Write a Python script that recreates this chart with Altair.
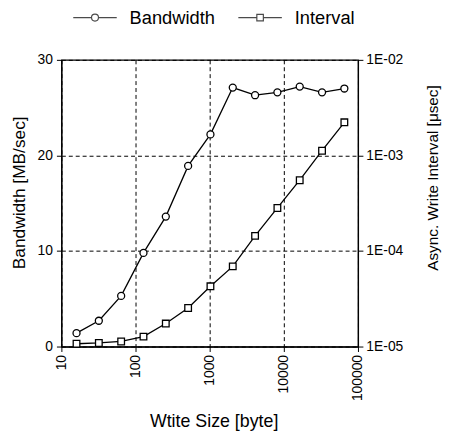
import altair as alt
import pandas as pd

sizes = [16, 32, 64, 128, 256, 512, 1024, 2048, 4096, 8192, 16384, 32768, 65536]
bandwidth = [1.4, 2.7, 5.3, 9.8, 13.6, 18.9, 22.2, 27.1, 26.3, 26.6, 27.2, 26.6, 27.0]
interval = [1.07e-5, 1.09e-5, 1.13e-5, 1.27e-5, 1.74e-5, 2.53e-5, 4.27e-5, 6.9e-5,
            1.44e-4, 2.82e-4, 5.5e-4, 1.12e-3, 2.22e-3]
series_names = ["Bandwidth", "Interval"]
x_ticks = [10, 100, 1000, 10000, 100000]
left_ticks = [0, 10, 20, 30]
right_ticks = [1e-5, 1e-4, 1e-3, 1e-2]

df_bw = pd.DataFrame({"size": sizes, "value": bandwidth})
df_iv = pd.DataFrame({"size": sizes, "value": interval})
df_leg = pd.DataFrame({"series": series_names})

FONT = "Liberation Sans"

x_axis = alt.Axis(values=x_ticks, labelExpr="format(datum.value, 'd')", labelAngle=270,
                  title="Wtite Size [byte]", grid=True, gridDash=[4, 3], gridColor="black",
                  gridOpacity=1, tickSize=5, labelPadding=3, titlePadding=12,
                  titleX=154, titleAlign="center",
                  labelFontSize=14, titleFontSize=18)
x_enc = alt.X("size:Q", scale=alt.Scale(type="log", domain=[10, 100000], nice=False), axis=x_axis)

y_left = alt.Y("value:Q", scale=alt.Scale(domain=[0, 30], nice=False),
               axis=alt.Axis(values=left_ticks, title="Bandwidth [MB/sec]", grid=True,
                             gridDash=[4, 3], gridColor="black", gridOpacity=1,
                             tickSize=5, labelPadding=4,
                             titleAngle=270, titleX=-42, titleY=134,
                             titleAlign="center", titleBaseline="middle",
                             labelFontSize=14, titleFontSize=17.5))

y_right = alt.Y("value:Q", scale=alt.Scale(type="log", domain=[1e-5, 1e-2], nice=False),
                axis=alt.Axis(orient="right", values=right_ticks,
                              labelExpr="'1E-0' + round(-log(datum.value) / LN10)",
                              title="Async. Write Interval [\u03bcsec]", titleAngle=270,
                              titleX=75, titleY=119, titleAlign="center",
                              titleBaseline="middle",
                              grid=False, tickSize=5, labelPadding=3,
                              labelFontSize=14, titleFontSize=15.5))

line_bw = alt.Chart(df_bw).mark_line(color="black", strokeWidth=1.3).encode(x=x_enc, y=y_left)
pts_bw = alt.Chart(df_bw).mark_point(shape="circle", size=50, filled=True, fill="white",
                                     stroke="black", strokeWidth=1.3, opacity=1).encode(x=x_enc, y=y_left)

line_iv = alt.Chart(df_iv).mark_line(color="black", strokeWidth=1.3).encode(x=x_enc, y=y_right)
pts_iv = alt.Chart(df_iv).mark_point(shape="square", size=45, filled=True, fill="white",
                                     stroke="black", strokeWidth=1.3, opacity=1).encode(x=x_enc, y=y_right)

circ = ("M-1,0L-0.16,0M0.16,0L1,0M0.16,0A0.16,0.16,0,1,1,-0.16,0"
        "A0.16,0.16,0,1,1,0.16,0")
sq = "M-1,0L-0.15,0M0.15,0L1,0M-0.15,-0.15L0.15,-0.15L0.15,0.15L-0.15,0.15Z"

legend_layer = alt.Chart(df_leg).mark_point(filled=False, color="black", size=1936).encode(
    shape=alt.Shape("series:N", scale=alt.Scale(domain=series_names, range=[circ, sq]),
                    legend=alt.Legend(title=None, orient="none", direction="horizontal",
                                      legendX=11, legendY=-66, symbolSize=1936,
                                      symbolStrokeColor="black", symbolFillColor="white",
                                      symbolStrokeWidth=1.2, labelFontSize=18.5,
                                      labelOffset=12, columnPadding=20, labelFont=FONT,
                                      labelColor="black"))
).transform_filter("false")

left = alt.layer(line_bw, pts_bw)
right = alt.layer(line_iv, pts_iv, legend_layer)

chart = alt.layer(left, right).resolve_scale(y="independent").properties(
    width=300, height=290,
    autosize=alt.AutoSizeParams(type="none"),
    padding={"left": 54, "top": 50, "right": 85, "bottom": 85},
).configure_view(stroke="black", strokeWidth=1.2).configure_axis(
    labelFont=FONT, titleFont=FONT, labelColor="black", titleColor="black",
    domainColor="black", tickColor="black", titleFontWeight="normal", domainWidth=1.2
).configure_legend(labelFont=FONT)

chart.save("out.html", embed_options={"renderer": "svg", "actions": False})
